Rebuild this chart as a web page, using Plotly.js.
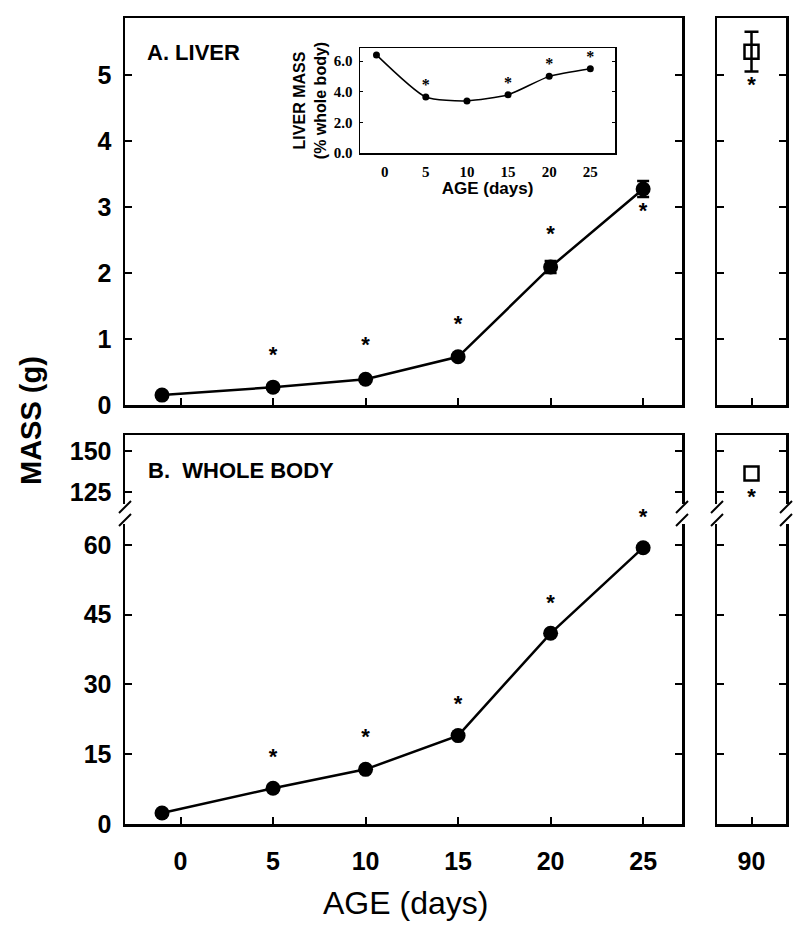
<!DOCTYPE html>
<html><head><meta charset="utf-8">
<script src="https://cdn.plot.ly/plotly-3.0.1.min.js"></script>
<style>html,body{margin:0;padding:0;background:#fff}</style>
</head><body><div id="chart" style="width:800px;height:931px"></div>
<script>
// ---- data ----
const ages = [-1, 5, 10, 15, 20, 25];
const ageTicks = [0, 5, 10, 15, 20, 25];
const liverMass = [0.15, 0.27, 0.39, 0.73, 2.09, 3.27];
const liverErr = [0.02, 0.02, 0.03, 0.04, 0.09, 0.12];
const starAges = [5, 10, 15, 20, 25];
const liverStarY = [0.73, 0.88, 1.21, 2.56, 2.91];
const bodyMass = [2.35, 7.7, 11.75, 19.0, 41.0, 59.4];
const bodyStarY = [14.1, 18.4, 25.4, 47.2, 65.6];
const adultAge = [90];
const adultLiver = [5.35];
const adultLiverErr = [0.3];
const adultLiverStar = [4.82];
const adultBody = [136.6];
const adultBodyStar = [121.3];
const insetPct = [6.4, 3.65, 3.4, 3.8, 5.0, 5.5];
const insetStarAges = [5, 15, 20, 25];
const insetStarY = [4.4, 4.5, 5.75, 6.2];
const liverTicks = [0, 1, 2, 3, 4, 5];
const bodyLowTicks = [0, 15, 30, 45, 60];
const bodyHighTicks = [125, 150];
const insetYTicks = [0, 2, 4, 6];
const insetYLabels = ['0.0', '2.0', '4.0', '6.0'];

const W = 800, H = 931;
const px = x => x / W, py = y => 1 - y / H;
const bold = (s) => ({family: 'Liberation Sans, Arial, sans-serif', size: s, color: '#000', weight: 'bold'});
const narrowBold = (s) => ({family: 'Liberation Sans Narrow, Arial Narrow, Liberation Sans, sans-serif', size: s, color: '#000', weight: 'bold'});
const starFont = {family: 'Liberation Sans, Arial, sans-serif', size: 22, color: '#000', weight: 'bold'};
const serifBold = (s) => ({family: 'Liberation Serif, serif', size: s, color: '#000', weight: 'bold'});

const traces = [
  {x: ages, y: liverMass, xaxis: 'x', yaxis: 'y', mode: 'lines+markers', type: 'scatter',
   line: {color: '#000', width: 2.5}, marker: {color: '#000', size: 15},
   error_y: {type: 'data', array: liverErr, color: '#000', thickness: 2.5, width: 6}},
  {x: starAges, y: liverStarY, xaxis: 'x', yaxis: 'y', mode: 'text', text: starAges.map(() => '*'),
   textfont: starFont, textposition: 'middle center', cliponaxis: false},
  {x: adultAge, y: adultLiver, xaxis: 'x2', yaxis: 'y2', mode: 'markers', type: 'scatter',
   marker: {symbol: 'square-open', color: '#000', size: 14, line: {width: 2.5}},
   error_y: {type: 'data', array: adultLiverErr, color: '#000', thickness: 2.5, width: 7}},
  {x: adultAge, y: adultLiverStar, xaxis: 'x2', yaxis: 'y2', mode: 'text', text: ['*'],
   textfont: starFont, cliponaxis: false},
  {x: ages, y: bodyMass, xaxis: 'x3', yaxis: 'y3', mode: 'lines+markers', type: 'scatter',
   line: {color: '#000', width: 2.5}, marker: {color: '#000', size: 15}},
  {x: starAges, y: bodyStarY, xaxis: 'x3', yaxis: 'y3', mode: 'text', text: starAges.map(() => '*'),
   textfont: starFont, cliponaxis: false},
  {x: [], y: [], xaxis: 'x4', yaxis: 'y4', mode: 'markers', type: 'scatter'},
  {x: [], y: [], xaxis: 'x5', yaxis: 'y5', mode: 'markers', type: 'scatter'},
  {x: adultAge, y: adultBody, xaxis: 'x6', yaxis: 'y6', mode: 'markers', type: 'scatter',
   marker: {symbol: 'square-open', color: '#000', size: 14, line: {width: 2.5}}},
  {x: adultAge, y: adultBodyStar, xaxis: 'x6', yaxis: 'y6', mode: 'text', text: ['*'],
   textfont: starFont, cliponaxis: false},
  {x: ages, y: insetPct, xaxis: 'x7', yaxis: 'y7', mode: 'lines+markers', type: 'scatter',
   line: {color: '#000', width: 1.5, shape: 'spline', smoothing: 0.6}, marker: {color: '#000', size: 7}},
  {x: insetStarAges, y: insetStarY, xaxis: 'x7', yaxis: 'y7', mode: 'text', text: insetStarAges.map(() => '*'),
   textfont: serifBold(16), cliponaxis: false}
];

const common = {showgrid: false, zeroline: false, showline: true, linecolor: '#000', linewidth: 2.5,
  ticks: 'inside', ticklen: 7, tickwidth: 2, tickcolor: '#000', fixedrange: true};

const xMainDom = [px(125), px(682)], xAdultDom = [px(717), px(786)];
const yADom = [py(405), py(18)], yLowDom = [py(824), py(517)], yHighDom = [py(517), py(435)];
const TF = 25;

const layout = {
  width: W, height: H, margin: {l: 0, r: 0, t: 0, b: 0},
  paper_bgcolor: '#fff', plot_bgcolor: 'rgba(0,0,0,0)', showlegend: false,
  xaxis: Object.assign({}, common, {domain: xMainDom, range: [-3, 27.1], anchor: 'y', tickvals: ageTicks, showticklabels: false, mirror: true}),
  yaxis: Object.assign({}, common, {domain: yADom, range: [0, 5.86], anchor: 'x', tickvals: liverTicks, mirror: 'ticks', tickfont: narrowBold(TF), ticklabelstandoff: 6}),
  xaxis2: Object.assign({}, common, {domain: xAdultDom, range: [88, 92], anchor: 'y2', tickvals: adultAge, showticklabels: false, mirror: true}),
  yaxis2: Object.assign({}, common, {domain: yADom, range: [0, 5.86], anchor: 'x2', tickvals: liverTicks.slice(1), mirror: 'ticks', showticklabels: false}),
  xaxis3: Object.assign({}, common, {domain: xMainDom, range: [-3, 27.1], anchor: 'y3', tickvals: ageTicks, tickfont: narrowBold(TF), ticklabelstandoff: 13}),
  yaxis3: Object.assign({}, common, {domain: yLowDom, range: [0, 66], anchor: 'x3', tickvals: bodyLowTicks, mirror: 'ticks', tickfont: narrowBold(TF), ticklabelstandoff: 6}),
  xaxis4: Object.assign({}, common, {domain: xMainDom, range: [-3, 27.1], anchor: 'y4', side: 'top', ticks: '', showticklabels: false}),
  yaxis4: Object.assign({}, common, {domain: yHighDom, range: [110, 160], anchor: 'x4', tickvals: bodyHighTicks, mirror: 'ticks', tickfont: narrowBold(TF), ticklabelstandoff: 6}),
  xaxis5: Object.assign({}, common, {domain: xAdultDom, range: [88, 92], anchor: 'y5', tickvals: adultAge, ticktext: ['90'], tickfont: narrowBold(TF), ticklabelstandoff: 13}),
  yaxis5: Object.assign({}, common, {domain: yLowDom, range: [0, 66], anchor: 'x5', tickvals: bodyLowTicks.slice(1), mirror: 'ticks', showticklabels: false}),
  xaxis6: Object.assign({}, common, {domain: xAdultDom, range: [88, 92], anchor: 'y6', side: 'top', ticks: '', showticklabels: false}),
  yaxis6: Object.assign({}, common, {domain: yHighDom, range: [110, 160], anchor: 'x6', tickvals: bodyHighTicks, mirror: 'ticks', showticklabels: false}),
  xaxis7: Object.assign({}, common, {domain: [px(360), px(615)], range: [-3, 28], anchor: 'y7', tickvals: ageTicks, ticks: '', linewidth: 1.5, mirror: true,
    tickfont: serifBold(15), ticklabelstandoff: 4,
    title: {text: 'AGE (days)', font: bold(17), standoff: 3}}),
  yaxis7: Object.assign({}, common, {domain: [py(153), py(48)], range: [0, 6.85], anchor: 'x7', tickvals: insetYTicks, ticktext: insetYLabels,
    linewidth: 1.5, ticklen: 3, tickwidth: 1, mirror: 'ticks',
    tickfont: serifBold(15), ticklabelstandoff: 3,
    title: {text: 'LIVER MASS<br>(% whole body)', font: bold(16), standoff: 3}}),
  annotations: [
    {xref: 'paper', yref: 'paper', x: px(145), y: py(52), text: 'A. LIVER', showarrow: false, xanchor: 'left', yanchor: 'middle', font: bold(22)},
    {xref: 'paper', yref: 'paper', x: px(146), y: py(470), text: 'B.&nbsp; WHOLE BODY', showarrow: false, xanchor: 'left', yanchor: 'middle', font: bold(22)},
    {xref: 'paper', yref: 'paper', x: px(31), y: py(421), text: 'MASS (g)', showarrow: false, textangle: -90, xanchor: 'center', yanchor: 'middle', font: bold(29)},
    {xref: 'paper', yref: 'paper', x: px(405), y: py(903), text: 'AGE (days)', showarrow: false, xanchor: 'center', yanchor: 'middle',
     font: {family: 'Liberation Sans, Arial, sans-serif', size: 32, color: '#000'}}
  ],
  shapes: []
};

// axis break marks on panel B edges
[125, 682, 717, 786].forEach(ex => {
  layout.shapes.push({type: 'rect', xref: 'paper', yref: 'paper', x0: px(ex - 4), x1: px(ex + 4), y0: py(504), y1: py(524),
    fillcolor: '#fff', line: {width: 0}, layer: 'above'});
  layout.shapes.push({type: 'line', xref: 'paper', yref: 'paper', x0: px(ex - 6), y0: py(513), x1: px(ex + 6), y1: py(501),
    line: {color: '#000', width: 2}, layer: 'above'});
  layout.shapes.push({type: 'line', xref: 'paper', yref: 'paper', x0: px(ex - 6), y0: py(526), x1: px(ex + 6), y1: py(514),
    line: {color: '#000', width: 2}, layer: 'above'});
});

Plotly.newPlot('chart', traces, layout, {staticPlot: true, displayModeBar: false});
</script></body></html>
